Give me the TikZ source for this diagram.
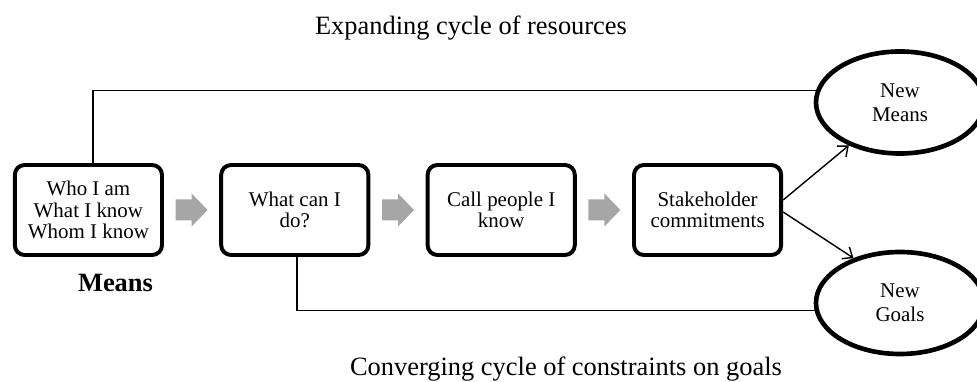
\documentclass[tikz,border=0pt]{standalone}
\usepackage{fontspec}
\setmainfont{Liberation Serif}
\usepackage{tikz}
\usetikzlibrary{positioning,calc,shapes,arrows.meta}

\begin{document}
\begin{tikzpicture}[
  stepbox/.style = {draw, line width = 2.8pt, rounded corners = 7pt, minimum width = 3.68cm, minimum height = 2.25cm, align = center, inner sep = 0pt, font = \fontsize{14.9}{15.3}\selectfont},
  outcome/.style = {draw, ellipse, line width = 3.3pt, minimum width = 4.2cm, minimum height = 2.55cm, align = center, inner sep = 0pt, font = \fontsize{14.9}{17}\selectfont},
  loopline/.style = {line width = 1pt},
  cyclelabel/.style = {anchor = base, font = \fontsize{18.8}{22}\selectfont},
  flow/.style = {fill = black!35}
]

\useasboundingbox (0,0) rectangle (24.425,9.525);

\node[cyclelabel] (expand) at (11.775,8.65) {Expanding cycle of resources};
\node[cyclelabel] (converge) at (14.15,.15) {Converging cycle of constraints on goals};

\node[stepbox] (who) at (2.21,4.275) {Who I am\\What I know\\Whom I know};
\node[stepbox] (do) at (7.37,4.275) {What can I\\do?};
\node[stepbox] (call) at (12.53,4.275) {Call people I\\know};
\node[stepbox] (stake) at (17.69,4.275) {Stakeholder\\commitments};

\node[cyclelabel] (means-label) at (2.8875,2.225) {\textbf{Means}};

\node[outcome] (means) at (22.5,6.9625) {New\\Means};
\node[outcome] (goals) at (22.5,1.95) {New\\Goals};

%%%%%%%%%%%%%%%%%%%%%%%%%%%%%%%%

\foreach \a/\b in {who/do, do/call, call/stake}
  \fill[flow] ($(\a.east)!.5!(\b.west)$) ++(-.4,-.2625) -- ++(.4,0) -- ++(0,-.15) -- ++(.4,.4125) -- ++(-.4,.4125) -- ++(0,-.15) -- ++(-.4,0) -- cycle;

\draw[loopline] ([xshift=.12cm]who.north) |- (means.172);
\draw[loopline] ([xshift=.05cm]do.south) |- (goals.185);

\draw[loopline, -{Straight Barb[length=6pt,width=10pt]}] ([yshift=.25cm]stake.east) -- (means.220);
\draw[loopline, -{Straight Barb[length=6pt,width=10pt]}] ([yshift=-.05cm]stake.east) -- (goals.136);

\end{tikzpicture}
\end{document}
